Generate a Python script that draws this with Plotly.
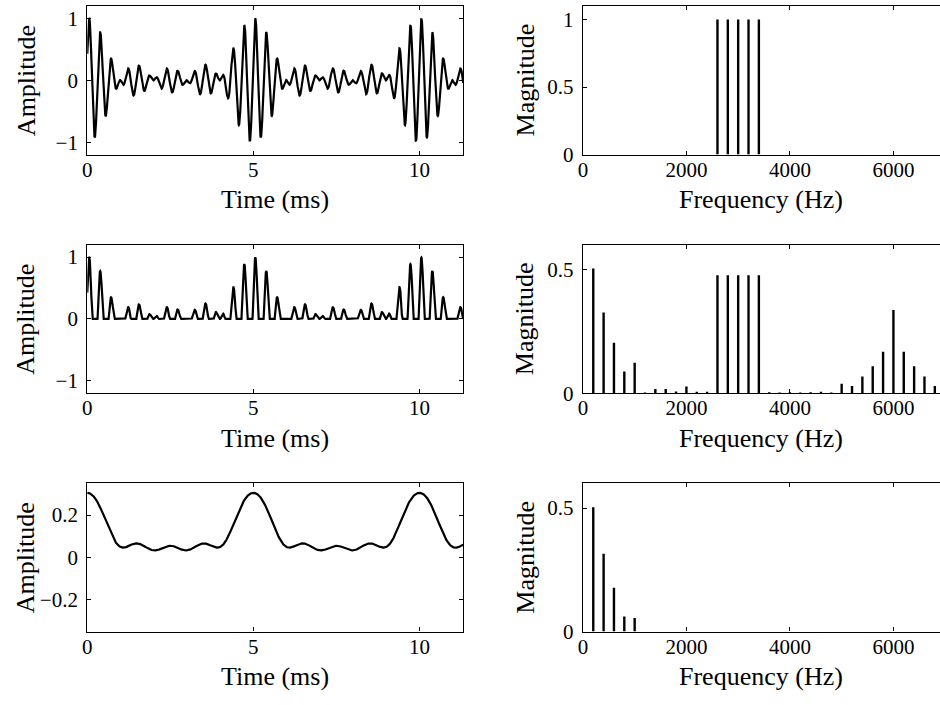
import numpy as np
import plotly.graph_objects as go

# ---------------- data ----------------
T_END_MS = 11.32          # visible time span (ms)
F_MAX_HZ = 6900           # visible frequency span (Hz)

# row 1: five equal tones
tone_freqs_hz = [2600, 2800, 3000, 3200, 3400]
tone_mags = [1.0, 1.0, 1.0, 1.0, 1.0]
tone_phase_rad = -1.13    # common carrier phase seen at t = 0

# row 2: spectrum of the half-wave rectified signal
rect_freqs_hz = [200, 400, 600, 800, 1000, 1200, 1400, 1600, 1800, 2000,
                 2200, 2400, 2600, 2800, 3000, 3200, 3400, 3600, 3800, 4000,
                 4200, 4400, 4600, 4800, 5000, 5200, 5400, 5600, 5800, 6000,
                 6200, 6400, 6600, 6800]
rect_mags = [0.504, 0.326, 0.204, 0.088, 0.123, 0.003, 0.017, 0.017, 0.007, 0.027,
             0.006, 0.006, 0.477, 0.477, 0.477, 0.477, 0.477, 0.004, 0.003, 0.004,
             0.003, 0.004, 0.006, 0.003, 0.038, 0.029, 0.067, 0.109, 0.168, 0.336,
             0.168, 0.109, 0.067, 0.029]

# row 3: low-pass filtered (envelope) spectrum
lp_freqs_hz = [200, 400, 600, 800, 1000]
lp_mags = [0.503, 0.315, 0.177, 0.061, 0.055]
lp_signs = [1, 1, 1, 1, -1]
lp_dc = 0.105

MAG_TO_AMP = 1.0 / len(tone_mags)   # five unit-magnitude tones peak at amplitude 1

# ---------------- time signals derived from the spectra ----------------
t_ms = np.linspace(0, T_END_MS, 2400)
x_sig = np.zeros_like(t_ms)
for f, m in zip(tone_freqs_hz, tone_mags):
    x_sig += m * MAG_TO_AMP * np.cos(2 * np.pi * f * t_ms / 1000.0 + tone_phase_rad)
rect_sig = np.maximum(x_sig, 0.0)
lp_sig = np.full_like(t_ms, lp_dc)
for f, m, s in zip(lp_freqs_hz, lp_mags, lp_signs):
    lp_sig += s * m * MAG_TO_AMP * np.cos(2 * np.pi * f * t_ms / 1000.0)


def stems(freqs, mags):
    xs, ys = [], []
    for f, m in zip(freqs, mags):
        xs += [f, f, None]
        ys += [0, m, None]
    return xs, ys


FONT = "Liberation Serif"
W, H = 940, 705

fig = go.Figure()

line_style = dict(color="black", width=2.2)
stem_style = dict(color="black", width=2.4)

for i, sig in enumerate([x_sig, rect_sig, lp_sig]):
    ax = 2 * i + 1
    fig.add_trace(go.Scatter(x=t_ms, y=sig, mode="lines", line=line_style,
                             xaxis=f"x{ax}", yaxis=f"y{ax}", showlegend=False,
                             hoverinfo="skip"))
for i, (fr, mg) in enumerate([(tone_freqs_hz, tone_mags),
                              (rect_freqs_hz, rect_mags),
                              (lp_freqs_hz, lp_mags)]):
    ax = 2 * i + 2
    sx, sy = stems(fr, mg)
    fig.add_trace(go.Scatter(x=sx, y=sy, mode="lines", line=stem_style,
                             xaxis=f"x{ax}", yaxis=f"y{ax}", showlegend=False,
                             hoverinfo="skip"))

rows_px = [(6.0, 157.3), (249.0, 400.0), (491.7, 642.5)]
left_px = (82.7, 460.7)
right_px = (581.0, 940.0)

common = dict(showline=True, linecolor="black", linewidth=1.2, ticks="inside",
              ticklen=4, tickwidth=1, tickcolor="black", showgrid=False,
              zeroline=False, tickfont=dict(family=FONT, size=21, color="black"),
              fixedrange=True)

left_yranges = [[-1.2, 1.2], [-1.2, 1.2], [-0.35, 0.35]]
left_yticks = [([-1, 0, 1], ["−1", "0", "1"]),
               ([-1, 0, 1], ["−1", "0", "1"]),
               ([-0.2, 0, 0.2], ["−0.2", "0", "0.2"])]
right_yranges = [[0, 1.1], [0, 0.6], [0, 0.6]]
right_yticks = [([0, 0.5, 1], ["0", "0.5", "1"]),
                ([0, 0.5], ["0", "0.5"]),
                ([0, 0.5], ["0", "0.5"])]

layout = {}
annotations = []
for i, (top, bot) in enumerate(rows_px):
    yd = [1 - bot / H, 1 - top / H]
    l, r = 2 * i + 1, 2 * i + 2
    layout[f"xaxis{l}"] = dict(common, domain=[left_px[0] / W, left_px[1] / W],
                               range=[0, T_END_MS], tickvals=[0, 5, 10],
                               ticktext=["0", "5", "10"], mirror="ticks",
                               anchor=f"y{l}", ticklabelstandoff=-4)
    layout[f"yaxis{l}"] = dict(common, domain=yd, range=left_yranges[i],
                               tickvals=left_yticks[i][0], ticktext=left_yticks[i][1],
                               mirror="ticks", anchor=f"x{l}", ticklabelstandoff=4)
    layout[f"xaxis{r}"] = dict(common, domain=[right_px[0] / W, right_px[1] / W],
                               range=[0, F_MAX_HZ], tickvals=[0, 2000, 4000, 6000],
                               ticktext=["0", "2000", "4000", "6000"], mirror="ticks",
                               anchor=f"y{r}", ticklabelstandoff=-4)
    layout[f"yaxis{r}"] = dict(common, domain=yd, range=right_yranges[i],
                               tickvals=right_yticks[i][0], ticktext=right_yticks[i][1],
                               mirror=False, anchor=f"x{r}", ticklabelstandoff=4)

    title_y = 1 - (bot + 46) / H
    mid_y = 1 - (top + bot) / 2 / H
    annotations += [
        dict(text="Time (ms)", x=sum(left_px) / 2 / W, y=title_y),
        dict(text="Frequency (Hz)", x=760 / W, y=title_y),
        dict(text="Amplitude", x=21 / W, y=mid_y, textangle=-90),
        dict(text="Magnitude", x=523 / W, y=mid_y, textangle=-90),
    ]

for a in annotations:
    a.update(xref="paper", yref="paper", showarrow=False, xanchor="center",
             yanchor="middle", font=dict(family=FONT, size=26, color="black"))

fig.update_layout(width=W, height=H, margin=dict(l=0, r=0, t=0, b=0),
                  paper_bgcolor="white", plot_bgcolor="white",
                  annotations=annotations, **layout)

fig.write_html("out.html")
